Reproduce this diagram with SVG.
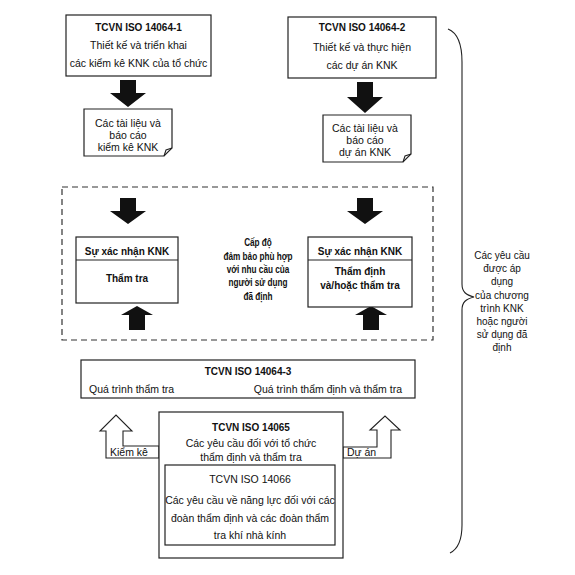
<svg xmlns="http://www.w3.org/2000/svg" width="575" height="575" viewBox="0 0 575 575">
<style>
text{font-family:"Liberation Sans",Arial,sans-serif;fill:#111;}
.t{font-size:10.5px;text-anchor:middle;}
.b{font-size:10px;font-weight:bold;text-anchor:middle;}
.c{font-size:10px;font-weight:bold;text-anchor:middle;}
.r{font-size:10px;text-anchor:middle;}
.box{fill:#fff;stroke:#222;stroke-width:1.2;}
.solid{fill:#111;stroke:none;}
.hollow{fill:#fff;stroke:#222;stroke-width:1.1;}
.dash{fill:none;stroke:#333;stroke-width:1.2;stroke-dasharray:6,4;}
.line{fill:none;stroke:#222;stroke-width:1.1;}
</style>
<rect width="575" height="575" fill="#fff"/>

<g id="frame-dashed">
<rect class="dash" x="62" y="187" width="371" height="153"/>
</g>

<g id="connectors">
<polygon class="solid" points="120,80 136,80 136,93 146,93 128,107 110,93 120,93"/>
<polygon class="solid" points="357,82 373,82 373,97 383,97 365,113 347,97 357,97"/>
<polygon class="solid" points="120,198 136,198 136,211 146,211 128,224 110,211 120,211"/>
<polygon class="solid" points="357,198 373,198 373,211 383,211 365,224 347,211 357,211"/>
<polygon class="solid" points="129,330 145,330 145,315 153,315 137,306 121,315 129,315"/>
<polygon class="solid" points="363,330 379,330 379,315 387,315 371,306 355,315 363,315"/>
<polygon class="hollow" points="159,446 123,446 123,431 132,431 116,415 100,431 106,431 106,458 159,458"/>
<polygon class="hollow" points="343,447 377,447 377,430 370,430 385,416 400,430 391,430 391,458 343,458"/>
<path class="line" d="M448,29 C458,33 462,45 462,62 L462,284 C462,292 466,295 474,297 C466,299 462,302 462,310 L462,525 C462,540 458,549 450,553"/>
</g>

<g id="iso-14064-1">
<rect class="box" x="66" y="15" width="145" height="61"/>
<text class="b" x="138.5" y="31">TCVN ISO 14064-1</text>
<text class="t" x="138.5" y="49">Thiết kế và triển khai</text>
<text class="t" x="138.5" y="67">các kiểm kê KNK của tổ chức</text>
</g>

<g id="iso-14064-2">
<rect class="box" x="288" y="17" width="148" height="61"/>
<text class="b" x="362" y="31">TCVN ISO 14064-2</text>
<text class="t" x="362" y="51">Thiết kế và thực hiện</text>
<text class="t" x="362" y="69">các dự án KNK</text>
</g>

<g id="doc-inventory">
<path class="box" d="M84,109 H172 V148 L164,156 H84 Z"/>
<path class="line" d="M164,156 L166,150 L172,148"/>
<text class="t" x="128" y="127">Các tài liệu và</text>
<text class="t" x="128" y="139">báo cáo</text>
<text class="t" x="128" y="151">kiểm kê KNK</text>
</g>

<g id="doc-project">
<path class="box" d="M323,115 H411 V154 L403,162 H323 Z"/>
<path class="line" d="M403,162 L405,156 L411,154"/>
<text class="t" x="365" y="132">Các tài liệu và</text>
<text class="t" x="365" y="144">báo cáo</text>
<text class="t" x="365" y="156">dự án KNK</text>
</g>

<g id="verification-left">
<rect class="box" x="76" y="237" width="102" height="66"/>
<line class="line" x1="76" y1="260" x2="178" y2="260"/>
<text class="b" x="127" y="255">Sự xác nhận KNK</text>
<text class="b" x="127" y="282">Thẩm tra</text>
</g>

<g id="assurance-level" transform="translate(258,0) scale(0.82,1)">
<text class="c" x="0" y="246">Cấp độ</text>
<text class="c" x="0" y="260">đảm bảo phù hợp</text>
<text class="c" x="0" y="273">với nhu cầu của</text>
<text class="c" x="0" y="286">người sử dụng</text>
<text class="c" x="0" y="300">đã định</text>
</g>

<g id="verification-right">
<rect class="box" x="308" y="237" width="104" height="70"/>
<line class="line" x1="308" y1="260" x2="412" y2="260"/>
<text class="b" x="360" y="255">Sự xác nhận KNK</text>
<text class="b" x="360" y="275">Thẩm định</text>
<text class="b" x="360" y="289">và/hoặc thẩm tra</text>
</g>

<g id="iso-14064-3">
<rect class="box" x="81" y="360" width="334" height="38"/>
<text class="b" x="248" y="375">TCVN ISO 14064-3</text>
<text class="t" x="89" y="393" style="text-anchor:start">Quá trình thẩm tra</text>
<text class="t" x="402" y="393" style="text-anchor:end">Quá trình thẩm định và thẩm tra</text>
</g>

<g id="iso-14065">
<rect class="box" x="159" y="412" width="184" height="146"/>
<text class="b" x="251" y="431">TCVN ISO 14065</text>
<text class="t" x="251" y="447">Các yêu cầu đối với tổ chức</text>
<text class="t" x="251" y="461">thẩm định và thẩm tra</text>
</g>

<g id="iso-14066">
<rect class="box" x="165" y="465" width="170" height="80"/>
<text class="t" x="250" y="483">TCVN ISO 14066</text>
<text class="t" x="250" y="504">Các yêu cầu về năng lực đối với các</text>
<text class="t" x="250" y="522">đoàn thẩm định và các đoàn thẩm</text>
<text class="t" x="250" y="539">tra khí nhà kính</text>
</g>

<g id="label-inventory">
<text class="t" x="110" y="456" style="text-anchor:start">Kiểm kê</text>
</g>
<g id="label-project">
<text class="t" x="347" y="456" style="text-anchor:start">Dự án</text>
</g>

<g id="requirements">
<text class="r" x="502" y="259">Các yêu cầu</text>
<text class="r" x="502" y="272">được áp</text>
<text class="r" x="502" y="285">dụng</text>
<text class="r" x="502" y="299">của chương</text>
<text class="r" x="502" y="312">trình KNK</text>
<text class="r" x="502" y="325">hoặc người</text>
<text class="r" x="502" y="338">sử dụng đã</text>
<text class="r" x="502" y="351">định</text>
</g>
</svg>
